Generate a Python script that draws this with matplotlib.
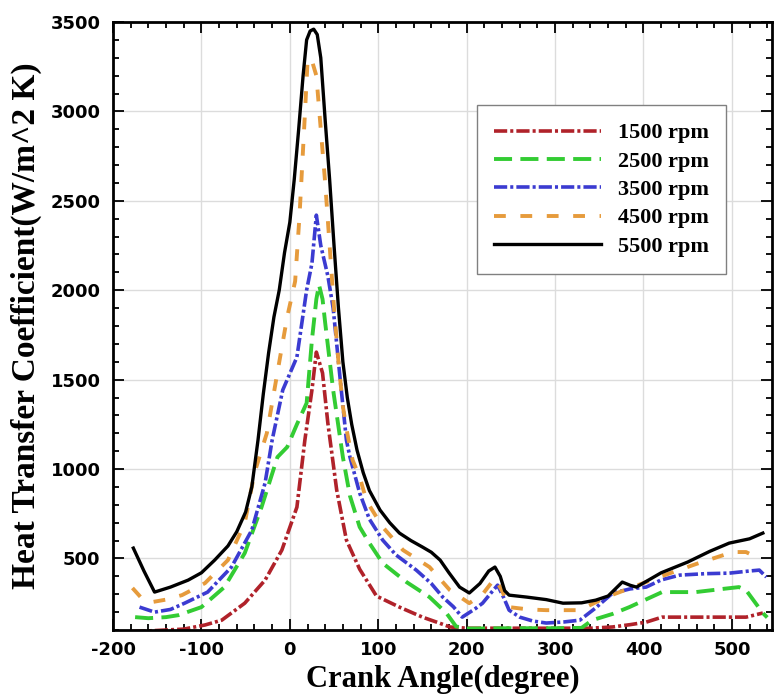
import matplotlib
matplotlib.use('Agg')
import matplotlib.pyplot as plt
from matplotlib.ticker import MultipleLocator

# crank angle (deg) / heat transfer coefficient (W/m^2 K) for each engine speed
ca_1500 = [-178, -160, -140, -120, -96, -77, -51, -28, -9, 8, 17, 25, 30, 37, 43, 53, 64, 79, 98, 124,
           150, 169, 181, 200, 250, 300, 340, 365, 385, 403, 421, 478, 516, 535]
h_1500 = [92, 95, 100, 105, 128, 155, 250, 379, 547, 787, 1162, 1442, 1654, 1537, 1257, 883, 603, 440, 290, 228,
          172, 139, 117, 110, 110, 110, 110, 117, 130, 144, 172, 172, 172, 195]

ca_2500 = [-175, -160, -140, -126, -100, -74, -51, -32, -14, -3, 8, 19, 25, 30, 33, 37, 40, 49, 60, 68,
           79, 90, 105, 132, 158, 177, 188, 200, 250, 300, 330, 342, 365, 384, 421, 459, 490, 508, 516, 535, 540]
h_2500 = [172, 166, 172, 183, 228, 340, 530, 787, 1067, 1123, 1250, 1369, 1722, 1950, 2030, 1950, 1817, 1442, 1067, 850,
          676, 586, 474, 368, 284, 195, 120, 108, 110, 110, 112, 155, 190, 228, 312, 312, 330, 340, 323, 195, 170]

ca_3500 = [-170, -153, -135, -119, -93, -66, -43, -28, -20, -8, 8, 19, 25, 30, 35, 43, 49, 57, 64, 68,
           79, 90, 105, 120, 143, 160, 173, 185, 195, 210, 218, 228, 235, 242, 248, 260, 275, 290, 310, 328,
           345, 365, 385, 403, 420, 441, 470, 497, 520, 531, 539]
h_3500 = [228, 200, 215, 250, 312, 452, 659, 922, 1162, 1442, 1626, 2001, 2150, 2420, 2250, 2080, 1900, 1500, 1162, 1067,
          866, 720, 603, 520, 435, 360, 284, 230, 172, 220, 250, 310, 351, 280, 211, 172, 150, 139, 145, 155,
          220, 306, 330, 340, 380, 407, 415, 418, 430, 435, 396]

ca_4500 = [-178, -168, -156, -140, -122, -96, -70, -51, -40, -26, -11, -3, 6, 11, 17, 20, 24, 30, 35, 40,
           45, 50, 55, 60, 65, 71, 79, 87, 105, 128, 158, 181, 203, 218, 232, 240, 248, 270, 290, 328,
           358, 388, 420, 460, 501, 516, 534]
h_4500 = [335, 280, 256, 270, 295, 362, 491, 698, 978, 1201, 1626, 1850, 2050, 2420, 2980, 3276, 3300, 3200, 2900, 2600,
          2250, 1900, 1600, 1350, 1200, 1050, 955, 820, 676, 547, 452, 323, 250, 300, 390, 320, 228, 215, 211, 211,
          284, 340, 400, 470, 536, 536, 491]

ca_5500 = [-177, -165, -153, -135, -115, -100, -85, -70, -60, -50, -43, -36, -30, -24, -18, -12, -6, 0, 5, 10,
           15, 19, 23, 27, 31, 35, 40, 45, 50, 55, 60, 65, 70, 76, 83, 90, 102, 113, 124, 137,
           150, 160, 170, 180, 192, 203, 215, 225, 232, 238, 243, 248, 268, 290, 309, 330, 346, 360, 376, 385,
           392, 420, 450, 475, 497, 520, 535]
h_5500 = [558, 430, 312, 340, 379, 420, 491, 570, 650, 760, 900, 1162, 1420, 1650, 1850, 2000, 2210, 2380, 2620, 2900,
          3200, 3400, 3450, 3460, 3430, 3300, 2950, 2620, 2250, 1900, 1600, 1400, 1250, 1106, 980, 880, 771, 700, 642, 600,
          564, 535, 491, 420, 340, 307, 360, 430, 452, 400, 320, 295, 284, 270, 250, 252, 267, 290, 368, 350,
          340, 420, 480, 540, 586, 610, 642]

labels = ['1500 rpm', '2500 rpm', '3500 rpm', '4500 rpm', '5500 rpm']

plt.rcParams['lines.scale_dashes'] = False
plt.rcParams['axes.unicode_minus'] = False

fig = plt.figure(figsize=(7.74, 6.99), dpi=100)
ax = fig.add_axes([0.146, 0.0987, 0.851, 0.8698])

ax.plot(ca_1500, h_1500, color='#b0222a', lw=2.6, linestyle=(0, (9.5, 2.2, 2.2, 2.2)), label=labels[0])
ax.plot(ca_2500, h_2500, color='#33cc33', lw=2.8, linestyle=(0, (13, 6)), label=labels[1])
ax.plot(ca_3500, h_3500, color='#3b3bd1', lw=2.6, linestyle=(0, (9.5, 2.2, 2.2, 2.2)), label=labels[2])
ax.plot(ca_4500, h_4500, color='#e69b3c', lw=2.8, linestyle=(0, (8.5, 10.5)), label=labels[3])
ax.plot(ca_5500, h_5500, color='black', lw=2.4, linestyle='solid', label=labels[4])

ax.set_xlim(-200, 545)
ax.set_ylim(100, 3500)
ax.xaxis.set_major_locator(MultipleLocator(100))
ax.xaxis.set_minor_locator(MultipleLocator(20))
ax.yaxis.set_minor_locator(MultipleLocator(100))
ax.set_yticks([500, 1000, 1500, 2000, 2500, 3000, 3500])

ax.grid(True, which='major', color='#dcdcdc', lw=1.0)
ax.set_axisbelow(True)
ax.tick_params(which='both', direction='in', top=True, right=True, width=1.3)
ax.tick_params(which='major', length=8)
ax.tick_params(which='minor', length=4)
ax.tick_params(axis='x', pad=8)
ax.tick_params(axis='y', pad=9)
for sp in ax.spines.values():
    sp.set_linewidth(2.0)

for lbl in ax.get_xticklabels() + ax.get_yticklabels():
    lbl.set_fontfamily('DejaVu Sans')
    lbl.set_fontweight('bold')
    lbl.set_fontsize(13)

ax.set_xlabel('Crank Angle(degree)', fontfamily='Liberation Serif', fontweight='bold', fontsize=22, labelpad=4)
ax.set_ylabel('Heat Transfer Coefficient(W/m^2 K)', fontfamily='Liberation Serif', fontweight='bold',
              fontsize=24, labelpad=6)

leg = ax.legend(loc='upper left', bbox_to_anchor=(0.552, 0.8635), borderaxespad=0, fancybox=False,
                framealpha=1, edgecolor='#808080', handlelength=4.8, handletextpad=0.75,
                labelspacing=0.35, borderpad=0.8,
                prop={'family': 'Liberation Serif', 'weight': 'bold', 'size': 16})
leg.get_frame().set_linewidth(1.0)

fig.savefig('out.png', dpi=100)
